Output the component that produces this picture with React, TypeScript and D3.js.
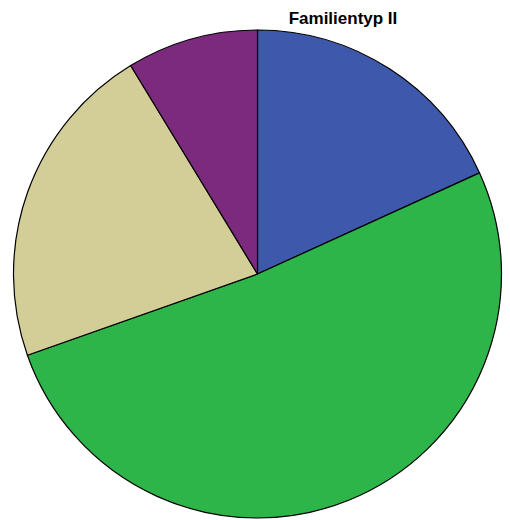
import { useEffect, useRef } from "react";
import * as d3 from "d3";

const categories = ["A", "B", "C", "D"];
const values = [18.2, 51.4, 21.7, 8.7];
const colors = ["#3E58AC", "#2DB54A", "#D3CD98", "#7C2A7E"];
const title = "Familientyp II";

export default function App() {
  const svgRef = useRef<SVGSVGElement>(null);

  useEffect(() => {
    if (!svgRef.current) return;
    const width = 510;
    const height = 520;
    const cx = 257.5;
    const cy = 274;
    const r = 244;

    const svg = d3.select(svgRef.current);
    svg.selectAll("*").remove();
    svg.attr("width", width).attr("height", height);

    const data = categories.map((c, i) => ({ key: c, value: values[i], color: colors[i] }));
    const pie = d3.pie<any>().sort(null).value((d) => d.value);
    const arc = d3.arc<any>().innerRadius(0).outerRadius(r);

    const g = svg.append("g").attr("transform", `translate(${cx},${cy})`);
    g.selectAll("path")
      .data(pie(data))
      .join("path")
      .attr("d", arc)
      .attr("fill", (d) => d.data.color)
      .attr("stroke", "#000")
      .attr("stroke-width", 1.2)
      .attr("stroke-linejoin", "round");

    svg
      .append("text")
      .attr("x", 343)
      .attr("y", 24)
      .attr("text-anchor", "middle")
      .attr("font-family", "Liberation Sans, Arial, sans-serif")
      .attr("font-weight", "bold")
      .attr("font-size", "17px")
      .attr("fill", "#000")
      .text(title);
  }, []);

  return (
    <div style={{ position: "absolute", left: 0, top: 0 }}>
      <svg ref={svgRef} style={{ display: "block" }} />
    </div>
  );
}
